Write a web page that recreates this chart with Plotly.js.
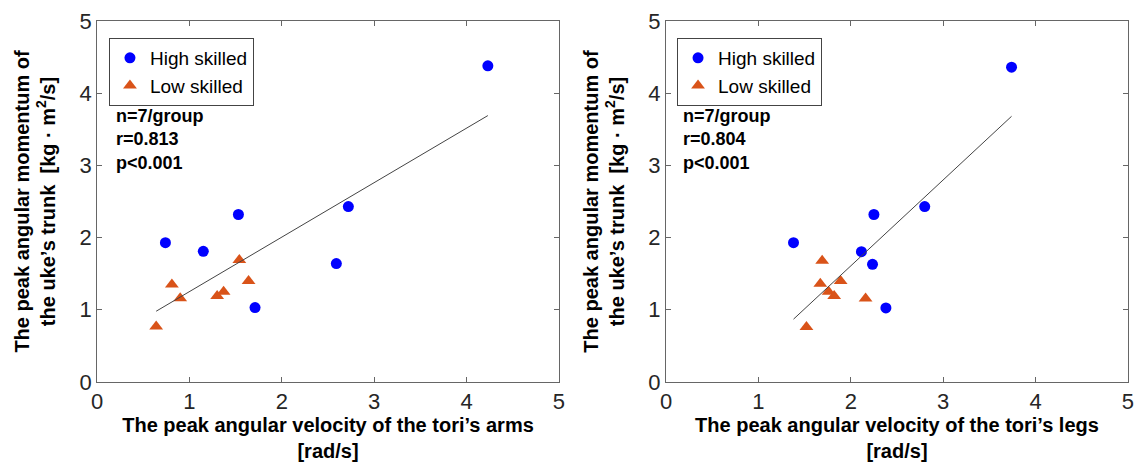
<!DOCTYPE html>
<html><head><meta charset="utf-8">
<script src="https://cdn.plot.ly/plotly-3.0.1.min.js"></script>
<style>body{margin:0;background:#fff}#chart{width:1135px;height:463px}</style>
</head><body><div id="chart"></div>
<script>
// Left panel: arms
const armsHighX = [0.74, 1.15, 1.53, 2.72, 2.59, 1.71, 4.23];
const armsHighY = [1.93, 1.81, 2.32, 2.43, 1.64, 1.03, 4.38];
const armsLowX = [0.64, 0.81, 0.90, 1.30, 1.37, 1.54, 1.64];
const armsLowY = [0.77, 1.35, 1.16, 1.19, 1.25, 1.69, 1.40];
const armsFitX = [0.64, 4.23];
const armsFitY = [0.98, 3.69];
// Right panel: legs
const legsHighX = [1.38, 2.115, 2.25, 2.80, 2.235, 2.38, 3.74];
const legsHighY = [1.93, 1.805, 2.32, 2.43, 1.63, 1.025, 4.36];
const legsLowX = [1.52, 1.69, 1.67, 1.76, 1.82, 1.89, 2.16];
const legsLowY = [0.76, 1.68, 1.36, 1.25, 1.19, 1.40, 1.155];
const legsFitX = [1.38, 3.74];
const legsFitY = [0.87, 3.68];
const tickVals = [0, 1, 2, 3, 4, 5];
const seriesNames = ["High skilled", "Low skilled"];
const statsArms = "n=7/group<br>r=0.813<br>p<0.001";
const statsLegs = "n=7/group<br>r=0.804<br>p<0.001";
const xTitleArms = "The peak angular velocity of the tori’s arms<br>[rad/s]";
const xTitleLegs = "The peak angular velocity of the tori’s legs<br>[rad/s]";
const yTitle = "The peak angular momentum of<br>the uke’s trunk  [kg · m<sup>2</sup>/s]";

const blue = "#0000FF", orange = "#D95319";
const font = "Liberation Sans, Arial, sans-serif";

function scat(x, y, name, sym, col, xa, ya, leg, size){
  return {x, y, name, type:"scatter", mode:"markers", xaxis:xa, yaxis:ya, legend:leg,
    marker:{symbol:sym, color:col, size:size, line:{width:0}}};
}
const traces = [
  scat(armsHighX, armsHighY, seriesNames[0], "circle", blue, "x", "y", "legend", 11),
  scat(armsLowX, armsLowY, seriesNames[1], "triangle-up", orange, "x", "y", "legend", 12),
  {x:armsFitX, y:armsFitY, type:"scatter", mode:"lines", xaxis:"x", yaxis:"y", showlegend:false, line:{color:"#444", width:1}},
  scat(legsHighX, legsHighY, seriesNames[0], "circle", blue, "x2", "y2", "legend2", 11),
  scat(legsLowX, legsLowY, seriesNames[1], "triangle-up", orange, "x2", "y2", "legend2", 12),
  {x:legsFitX, y:legsFitY, type:"scatter", mode:"lines", xaxis:"x2", yaxis:"y2", showlegend:false, line:{color:"#444", width:1}}
];

function xax(dom, anchor, title){
  return {domain:dom, anchor:anchor, range:[0,5], tickvals:tickVals, ticks:"inside", ticklen:5,
    tickcolor:"#666", showline:true, mirror:"ticks", linecolor:"#666", linewidth:1, showgrid:false, zeroline:false,
    tickfont:{family:font, size:22, color:"#262626"},
    title:{text:title, font:{family:font, size:20, color:"#000", weight:"bold"}, standoff:2}};
}
function yax(anchor, title){
  return {domain:[0.175, 0.9546], anchor:anchor, range:[0,5], tickvals:tickVals, ticks:"inside", ticklen:5,
    tickcolor:"#666", showline:true, mirror:"ticks", linecolor:"#666", linewidth:1, showgrid:false, zeroline:false,
    tickfont:{family:font, size:22, color:"#262626"},
    title:{text:title, font:{family:font, size:20, color:"#000", weight:"bold"}, standoff:18}};
}
const legendStyle = {xanchor:"left", yanchor:"top", bgcolor:"#fff", bordercolor:"#444", borderwidth:1,
  font:{family:font, size:19, color:"#000"}, tracegroupgap:0, itemwidth:30};

const layout = {
  width:1135, height:463, margin:{l:0, r:0, t:0, b:0}, paper_bgcolor:"#fff", plot_bgcolor:"#fff",
  xaxis: xax([0.0855, 0.4925], "y", xTitleArms),
  yaxis: yax("x", yTitle),
  xaxis2: xax([0.5868, 0.9938], "y2", xTitleLegs),
  yaxis2: yax("x2", yTitle),
  legend: Object.assign({x:0.096, y:0.918}, legendStyle),
  legend2: Object.assign({x:0.5965, y:0.918}, legendStyle),
  annotations:[
    {text:statsArms, xref:"paper", yref:"paper", x:0.1005, y:0.775, xanchor:"left", yanchor:"top", align:"left", showarrow:false,
     font:{family:font, size:18, color:"#000", weight:"bold"}},
    {text:statsLegs, xref:"paper", yref:"paper", x:0.6, y:0.775, xanchor:"left", yanchor:"top", align:"left", showarrow:false,
     font:{family:font, size:18, color:"#000", weight:"bold"}}
  ]
};
Plotly.newPlot("chart", traces, layout, {displayModeBar:false, staticPlot:true});
</script></body></html>
